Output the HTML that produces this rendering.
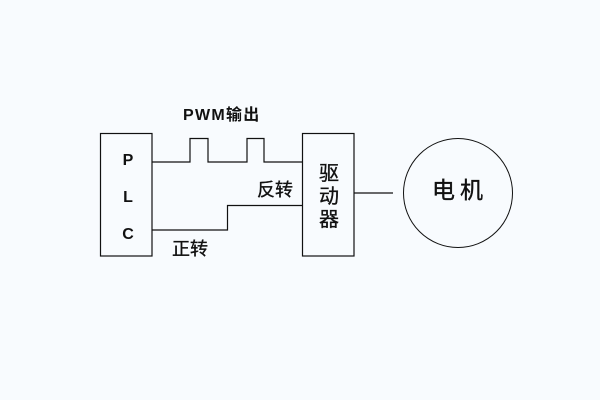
<!DOCTYPE html>
<html><head><meta charset="utf-8"><style>
html,body{margin:0;padding:0;background:#f8fbfe;}
svg{display:block;}
text{font-family:"Liberation Sans","Noto Sans CJK SC",sans-serif;fill:#111;}
.cj{stroke:#111;stroke-width:0.35;}
</style></head><body>
<svg width="600" height="400" viewBox="0 0 600 400" xmlns="http://www.w3.org/2000/svg">
<rect width="600" height="400" fill="#f8fbfe"/>
<g fill="none" stroke="#111" stroke-width="1.2">
<rect x="100.5" y="133.5" width="51.5" height="122.5"/>
<rect x="302.5" y="133.5" width="51.5" height="122.5"/>
<polyline points="152,162 190,162 190,138.5 208,138.5 208,162 247,162 247,138.5 264,138.5 264,162 302,162"/>
<polyline points="152,230 227.5,230 227.5,205.5 302,205.5"/>
<line x1="354" y1="193" x2="393" y2="193"/>
<circle cx="458" cy="193" r="54.5" stroke-width="1"/>
</g>
<text x="183" y="120" font-size="16" font-weight="bold" letter-spacing="1.3">PWM输出</text>
<text x="128" y="165" font-size="16" font-weight="bold" text-anchor="middle">P</text>
<text x="128" y="202" font-size="16" font-weight="bold" text-anchor="middle">L</text>
<text x="128" y="239" font-size="16" font-weight="bold" text-anchor="middle">C</text>
<text class="cj" x="257" y="196" font-size="18">反转</text>
<text class="cj" x="172" y="255" font-size="18">正转</text>
<text class="cj" x="329" y="180" font-size="20" text-anchor="middle">驱</text>
<text class="cj" x="329" y="203" font-size="20" text-anchor="middle">动</text>
<text class="cj" x="329" y="226" font-size="20" text-anchor="middle">器</text>
<text class="cj" x="432" y="198" font-size="23" letter-spacing="5">电机</text>
</svg>
</body></html>
